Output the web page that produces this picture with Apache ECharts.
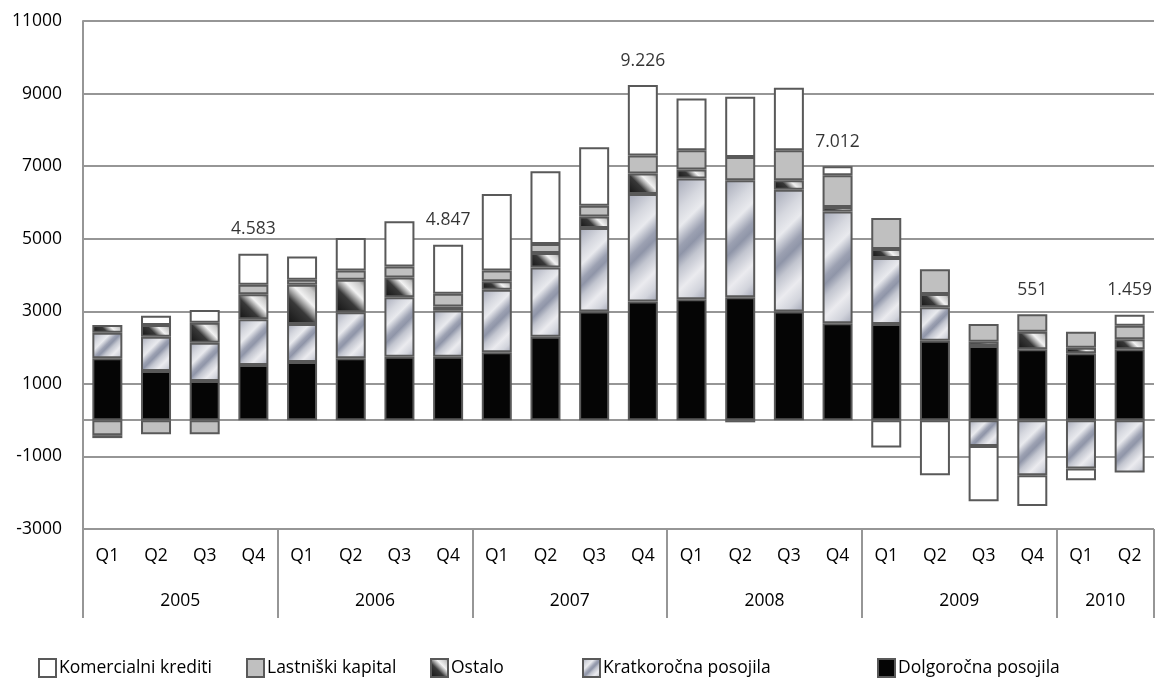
<!DOCTYPE html>
<html><head><meta charset="utf-8">
<script src="https://cdn.jsdelivr.net/npm/echarts@6/dist/echarts.min.js"></script>
<style>html,body{margin:0;padding:0;background:#fff}#c{width:1157px;height:692px}</style>
</head><body><div id="c"></div>
<script>
// ---- data ----
const years = ['2005', '2006', '2007', '2008', '2009', '2010'];
const quartersPerYear = [4, 4, 4, 4, 4, 2];
const quarterNames = ['Q1', 'Q2', 'Q3', 'Q4'];

const dolgorocnaPosojila = [1704, 1353, 1077, 1519, 1602, 1704, 1749, 1749, 1870, 2301, 2991, 3267, 3334, 3389, 2991, 2671, 2652, 2190, 2044, 1953, 1842, 1953];
const kratkorocnaPosojila = [707, 947, 1058, 1262, 1050, 1271, 1640, 1271, 1721, 1906, 2303, 2966, 3323, 3220, 3361, 3082, 1815, 922, -710, -1519, -1334, -1445];
const ostalo = [213, 323, 552, 690, 1077, 893, 542, 110, 240, 398, 320, 561, 249, -60, 257, 122, 249, 367, 119, 486, 155, 276];
const lastniskiKapital = [-415, -390, -390, 257, 138, 258, 304, 351, 293, 249, 296, 497, 533, 644, 829, 873, 856, 682, 489, 481, 442, 370];
const komercialniKrediti = [-80, 257, 348, 856, 644, 895, 1243, 1353, 2110, 2005, 1610, 1942, 1428, 1657, 1723, 249, -754, -1519, -1527, -850, -323, 304];
const totalLabels = [null, null, null, 4583, null, null, null, 4847, null, null, null, 9226, null, null, null, 7012, null, null, null, 551, null, 1459];

const yTicks = { min: -3000, max: 11000, step: 2000 };

// ---- derived ----
const categories = [];
years.forEach((y, i) => { for (let q = 0; q < quartersPerYear[i]; q++) categories.push(quarterNames[q]); });
const n = categories.length;
const yearAxisData = new Array(n + 1).fill('');
const boundaries = [0];
let start = 0;
years.forEach((y, i) => { yearAxisData[start + quartersPerYear[i] / 2] = y; start += quartersPerYear[i]; boundaries.push(start); });

const GRID = { left: 83, top: 21, right: -9, bottom: 163 };
const plotH = 692 - GRID.top - GRID.bottom;
const BAR_W = 30;
const BORDER = '#595959';
const LINE = '#969696';
const FONT = "'Open Sans', sans-serif";

function segH(v) { return Math.max(1, Math.abs(v) * plotH / (yTicks.max - yTicks.min)); }
function diagGrad(w, h, dir, stops) {
  const k = (w + h) / 4;
  if (dir === 'down') return { type: 'linear', x: 0.5 - k / w, y: 0.5 - k / h, x2: 0.5 + k / w, y2: 0.5 + k / h, colorStops: stops, global: false };
  return { type: 'linear', x: 0.5 - k / w, y: 0.5 + k / h, x2: 0.5 + k / w, y2: 0.5 - k / h, colorStops: stops, global: false };
}
const kratStops = [
  { offset: 0, color: '#a4a8b7' }, { offset: 0.22, color: '#d6d8df' }, { offset: 0.34, color: '#e9eaee' },
  { offset: 0.47, color: '#9ca1b2' }, { offset: 0.53, color: '#8f95a8' }, { offset: 0.62, color: '#c2c5cf' },
  { offset: 0.76, color: '#ebebef' }, { offset: 0.88, color: '#d2d4dc' }, { offset: 1, color: '#a0a4b4' }
];
const ostStops = [
  { offset: 0, color: '#121212' }, { offset: 0.4, color: '#383838' }, { offset: 0.5, color: '#8c8c8c' },
  { offset: 0.64, color: '#f2f2f2' }, { offset: 0.84, color: '#c6c6c6' }, { offset: 1, color: '#666666' }
];

function gradData(arr, dir, stops) {
  return arr.map(v => ({ value: v, itemStyle: { color: diagGrad(BAR_W, segH(v), dir, stops) } }));
}

const posTop = categories.map((c, i) => {
  if (totalLabels[i] == null) return '-';
  return [dolgorocnaPosojila, kratkorocnaPosojila, ostalo, lastniskiKapital, komercialniKrediti]
    .reduce((s, a) => s + Math.max(0, a[i]), 0);
});
function fmtThousands(v) { return String(v).replace(/\B(?=(\d{3})+(?!\d))/g, '.'); }

function barSeries(name, data, color) {
  return {
    name, type: 'bar', stack: 'total', barWidth: BAR_W, xAxisIndex: 0, yAxisIndex: 0,
    itemStyle: { color, borderColor: BORDER, borderWidth: 2 },
    emphasis: { disabled: true },
    data
  };
}

const seriesNames = ['Komercialni krediti', 'Lastniški kapital', 'Ostalo', 'Kratkoročna posojila', 'Dolgoročna posojila'];
const legendLeft = [38, 246, 430, 582, 877];

const option = {
  animation: false,
  textStyle: { fontFamily: FONT },
  grid: { left: GRID.left, top: GRID.top, right: GRID.right, bottom: GRID.bottom, containLabel: false },
  legend: seriesNames.map((nm, i) => ({
    data: [nm], left: legendLeft[i], top: 658, padding: 0, itemWidth: 17, itemHeight: 18, itemGap: 4,
    icon: 'rect', selectedMode: false,
    textStyle: { fontFamily: FONT, fontSize: 17.5, color: '#000', padding: [3, 0, 0, -2] }
  })),
  xAxis: [
    {
      type: 'category', data: categories, position: 'bottom', gridIndex: 0,
      axisLine: { show: false, onZero: false }, axisTick: { show: false },
      axisLabel: { interval: 0, margin: 18, fontSize: 17.5, color: '#000', fontFamily: FONT },
      splitLine: { show: false }
    },
    {
      type: 'category', data: yearAxisData, position: 'bottom', gridIndex: 0, boundaryGap: false,
      axisLine: { show: false, onZero: false },
      axisTick: { show: true, length: 89, interval: (idx) => boundaries.includes(idx), lineStyle: { color: LINE, width: 2 } },
      axisLabel: { interval: 0, margin: 63, fontSize: 17.5, color: '#000', fontFamily: FONT },
      splitLine: { show: false }
    },
    {
      type: 'category', data: categories, position: 'bottom', gridIndex: 0,
      axisLine: { show: true, onZero: true, lineStyle: { color: LINE, width: 2 } },
      axisTick: { show: false }, axisLabel: { show: false }, splitLine: { show: false }
    }
  ],
  yAxis: {
    type: 'value', min: yTicks.min, max: yTicks.max, interval: yTicks.step,
    axisLine: { show: true, lineStyle: { color: LINE, width: 2 } },
    axisTick: { show: false },
    axisLabel: { formatter: v => String(v), fontSize: 17.5, color: '#000', margin: 21, fontFamily: FONT },
    splitLine: { show: true, lineStyle: { color: LINE, width: 2 } }
  },
  series: [
    barSeries('Dolgoročna posojila', dolgorocnaPosojila, '#050505'),
    barSeries('Kratkoročna posojila', gradData(kratkorocnaPosojila, 'down', kratStops), diagGrad(17, 18, 'down', kratStops)),
    barSeries('Ostalo', gradData(ostalo, 'up', ostStops), diagGrad(17, 18, 'up', ostStops)),
    barSeries('Lastniški kapital', lastniskiKapital, '#c0c0c0'),
    barSeries('Komercialni krediti', komercialniKrediti, '#ffffff'),
    {
      name: 'totals', type: 'scatter', xAxisIndex: 0, yAxisIndex: 0, symbolSize: 1,
      itemStyle: { color: 'rgba(0,0,0,0)' }, z: 10, silent: true,
      label: {
        show: true, position: 'top', distance: 15, fontSize: 17.5, color: '#000', fontFamily: FONT,
        formatter: p => fmtThousands(totalLabels[p.dataIndex])
      },
      data: posTop
    }
  ]
};

const chart = echarts.init(document.getElementById('c'), null, { renderer: 'canvas' });
chart.setOption(option);
</script>
</body></html>
